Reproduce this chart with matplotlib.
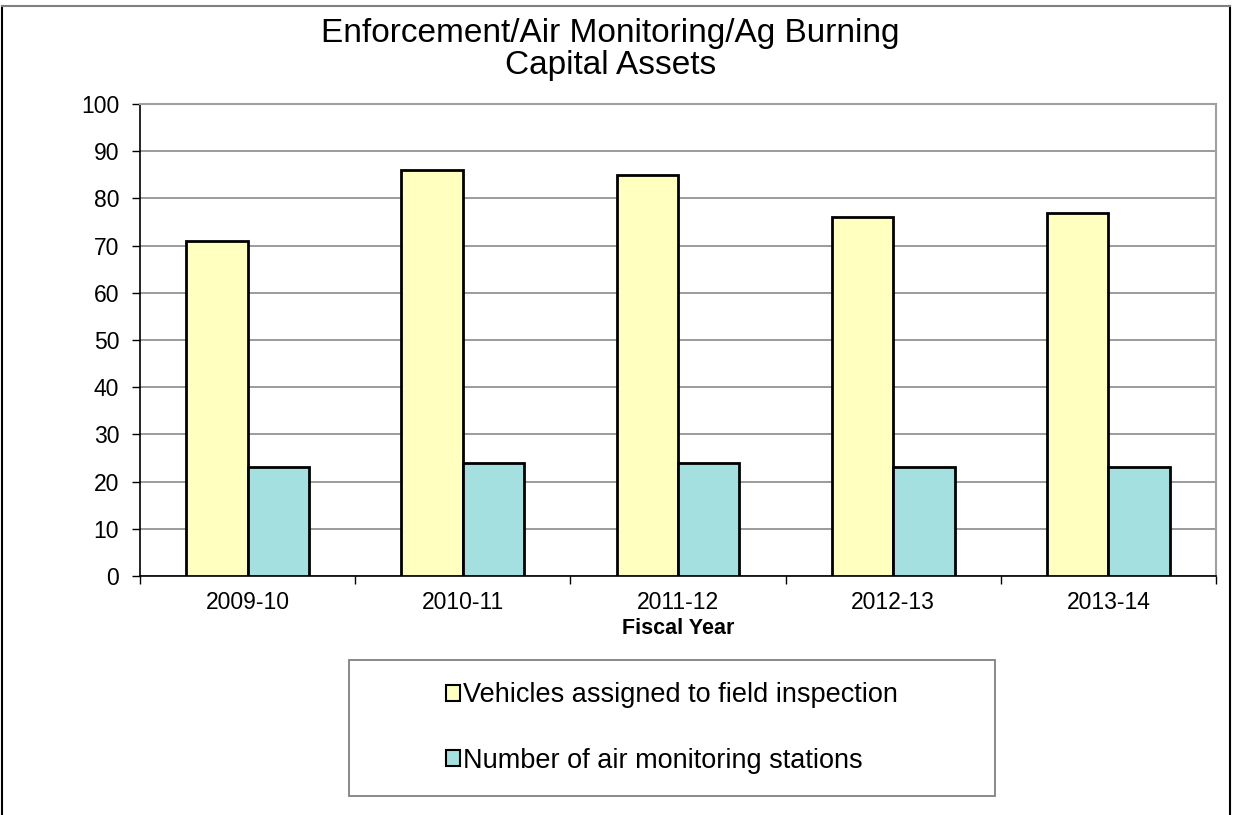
import numpy as np
import matplotlib
matplotlib.use('Agg')
import matplotlib.pyplot as plt
from matplotlib.patches import Rectangle
from matplotlib.lines import Line2D

plt.rcParams['font.family'] = ['Liberation Sans', 'DejaVu Sans']

years = ['2009-10', '2010-11', '2011-12', '2012-13', '2013-14']
vehicles = [71, 86, 85, 76, 77]
stations = [23, 24, 24, 23, 23]
series_names = ['Vehicles assigned to field inspection',
                'Number of air monitoring stations']

W, H = 1233, 815


def fx(px):
    return px / W


def fy(py):
    # pixel row (from top) -> figure fraction
    return 1 - py / H


def main():
    fig = plt.figure(figsize=(W / 100, H / 100), dpi=100)
    ax = fig.add_axes([fx(140), fy(576), fx(1216 - 140), (576 - 104) / H])

    x = np.arange(len(years))
    w = 0.2857
    b1 = ax.bar(x - w / 2, vehicles, w, color='#FFFFC0', edgecolor='black',
                linewidth=2, label=series_names[0], zorder=3)
    b2 = ax.bar(x + w / 2, stations, w, color='#A5E0E0', edgecolor='black',
                linewidth=2, label=series_names[1], zorder=3)

    ax.set_xlim(-0.5, len(years) - 0.5)
    ax.set_ylim(0, 100)
    ax.set_yticks(range(0, 101, 10))
    ax.set_xticks(x)
    ax.set_xticklabels(years, fontsize=16.5)
    ax.set_xticks(np.arange(-0.5, len(years), 1), minor=True)
    ax.tick_params(axis='x', which='major', length=0, pad=11)
    ax.tick_params(axis='x', which='minor', length=6, width=1)
    ax.tick_params(axis='y', labelsize=16.5, length=6, width=1, pad=9)
    ax.yaxis.grid(True, color='#808080', linewidth=1.1, zorder=0)

    for side in ['top', 'right']:
        ax.spines[side].set_color('#a0a0a0')
        ax.spines[side].set_linewidth(1.5)
    for side in ['left', 'bottom']:
        ax.spines[side].set_color('black')
        ax.spines[side].set_linewidth(1.2)

    ax.set_xlabel('Fiscal Year', fontsize=15.5, fontweight='bold', labelpad=3)

    # title, two lines
    fig.text(fx(610.5), fy(42), 'Enforcement/Air Monitoring/Ag Burning',
             ha='center', va='baseline', fontsize=24)
    fig.text(fx(610.5), fy(74), 'Capital Assets',
             ha='center', va='baseline', fontsize=24)

    # legend box drawn by hand, entries from the bars
    fig.patches.append(Rectangle((fx(349), fy(796)), fx(995 - 349),
                                 (796 - 660) / H, transform=fig.transFigure,
                                 fill=False, edgecolor='#808080',
                                 linewidth=1.3))
    leg = fig.legend(handles=[b1, b2], loc='center',
                     bbox_to_anchor=(fx(672), fy(728)), fontsize=19.5,
                     frameon=False, handlelength=0.52, handleheight=0.52,
                     handletextpad=0.12, labelspacing=1.45, borderpad=0,
                     borderaxespad=0)
    for h in leg.legend_handles:
        h.set_linewidth(1.5)

    # outer chart border
    for xs, ys, c in [([fx(2), fx(2)], [0, fy(6)], 'black'),
                      ([fx(1230), fx(1230)], [0, fy(6)], 'black'),
                      ([fx(2), fx(1230)], [fy(6), fy(6)], '#808080')]:
        fig.lines.append(Line2D(xs, ys, transform=fig.transFigure,
                                color=c, linewidth=1.5))

    fig.savefig('out.png', dpi=100)


if __name__ == '__main__':
    main()
